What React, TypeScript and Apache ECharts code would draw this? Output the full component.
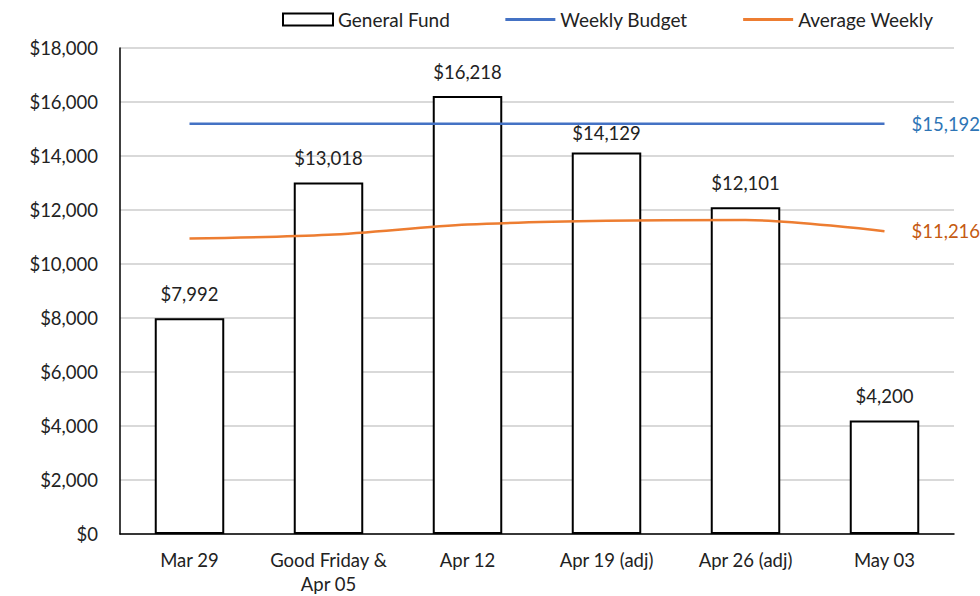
import React, { useEffect, useRef } from "react";
import * as echarts from "echarts";

const categories = ["Mar 29", "Good Friday &\nApr 05", "Apr 12", "Apr 19 (adj)", "Apr 26 (adj)", "May 03"];
const generalFund = [7992, 13018, 16218, 14129, 12101, 4200];
const weeklyBudget = [15192, 15192, 15192, 15192, 15192, 15192];
const averageWeekly = [10940, 11080, 11460, 11600, 11630, 11216];
const yTicks = { min: 0, max: 18000, interval: 2000 };

const FONT = "Lato, 'Open Sans', sans-serif";
const FS = 18.5;
const money = (v: number) => "$" + Math.round(v).toLocaleString("en-US");

export default function App() {
  const ref = useRef<HTMLDivElement>(null);
  useEffect(() => {
    if (!ref.current) return;
    const chart = echarts.init(ref.current, undefined, { renderer: "svg" });
    const barData = generalFund.map((v, i) => (i === 3 ? { value: v, label: { distance: 10 } } : v));
    chart.setOption({
      animation: false,
      textStyle: { fontFamily: FONT },
      legend: {
        top: 5,
        left: 277,
        itemGap: 54,
        itemWidth: 50,
        itemHeight: 12,
        textStyle: { fontFamily: FONT, fontSize: 19, color: "#222" },
        data: [
          { name: "General Fund", icon: "rect", itemStyle: { color: "#fff", borderColor: "#000", borderWidth: 2 } },
          { name: "Weekly Budget", itemStyle: { color: "transparent", borderWidth: 0 }, lineStyle: { width: 3 } },
          { name: "Average Weekly", itemStyle: { color: "transparent", borderWidth: 0 }, lineStyle: { width: 3 } },
        ],
      },
      grid: { left: 120, right: 26, top: 48, bottom: 61 },
      xAxis: {
        type: "category",
        data: categories,
        axisLine: { lineStyle: { color: "#000", width: 1.5 } },
        axisTick: { show: false },
        axisLabel: { fontFamily: FONT, fontSize: FS, color: "#222", margin: 14, lineHeight: 24, interval: 0 },
      },
      yAxis: {
        type: "value",
        min: yTicks.min,
        max: yTicks.max,
        interval: yTicks.interval,
        axisLine: { show: true, lineStyle: { color: "#000", width: 1.5 } },
        axisTick: { show: false },
        splitLine: { lineStyle: { color: "#d9d9d9", width: 2 } },
        axisLabel: { fontFamily: FONT, fontSize: FS, color: "#222", margin: 22, formatter: (v: number) => money(v) },
      },
      series: [
        {
          name: "General Fund",
          type: "bar",
          data: barData,
          barWidth: "50%",
          itemStyle: { color: "#fff", borderColor: "#000", borderWidth: 2 },
          label: {
            show: true,
            position: "top",
            distance: 15,
            fontFamily: FONT,
            fontSize: FS,
            color: "#222",
            formatter: (p: any) => money(p.value),
          },
          z: 2,
        },
        {
          name: "Weekly Budget",
          type: "line",
          data: weeklyBudget,
          symbol: "none",
          lineStyle: { color: "#4472C4", width: 2.5 },
          itemStyle: { color: "#4472C4" },
          endLabel: {
            show: true,
            distance: 27,
            fontFamily: FONT,
            fontSize: FS,
            color: "#2E75B6",
            formatter: (p: any) => money(p.value),
          },
          z: 3,
        },
        {
          name: "Average Weekly",
          type: "line",
          data: averageWeekly,
          symbol: "none",
          smooth: 0.3,
          lineStyle: { color: "#ED7D31", width: 2.5 },
          itemStyle: { color: "#ED7D31" },
          endLabel: {
            show: true,
            distance: 27,
            fontFamily: FONT,
            fontSize: FS,
            color: "#C55A11",
            formatter: (p: any) => money(p.value),
          },
          z: 3,
        },
      ],
    });
    return () => chart.dispose();
  }, []);
  return <div ref={ref} style={{ position: "absolute", left: 0, top: 0, width: 980, height: 596 }} />;
}
